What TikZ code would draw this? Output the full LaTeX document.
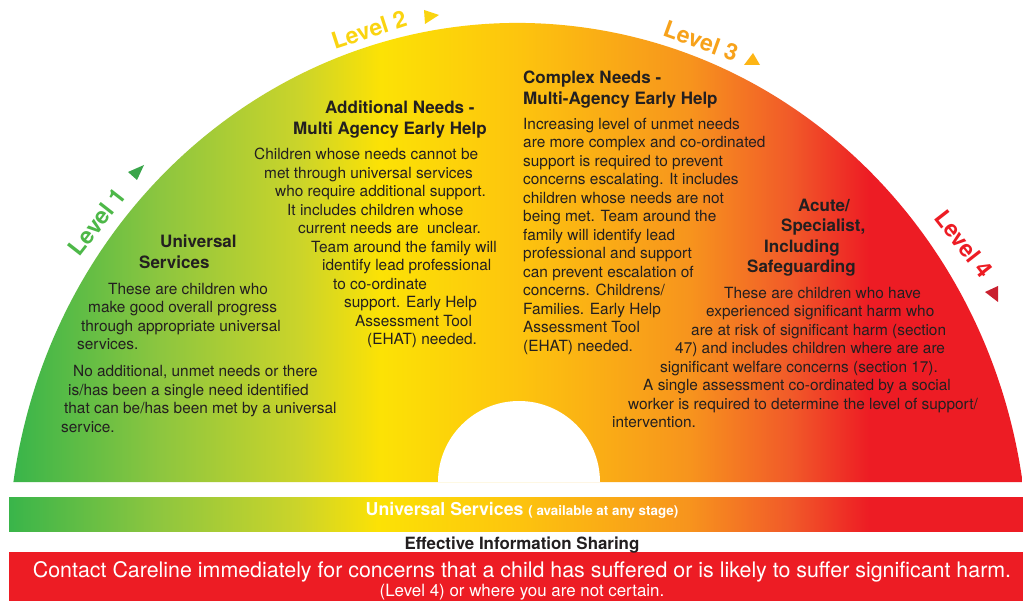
\documentclass[tikz,border=0pt]{standalone}
\usepackage{fontspec}
\setmainfont{TeX Gyre Heros}
\usetikzlibrary{scopes}

\definecolor{lvgreen}{RGB}{57,181,74}
\definecolor{lvlime}{RGB}{141,198,63}
\definecolor{lvyelgreen}{RGB}{203,212,42}
\definecolor{lvyellow}{RGB}{252,226,5}
\definecolor{lvgold}{RGB}{253,196,14}
\definecolor{lvorange}{RGB}{247,148,29}
\definecolor{lvredorange}{RGB}{241,90,41}
\definecolor{lvred}{RGB}{237,28,36}
\definecolor{txt}{RGB}{35,31,32}
\definecolor{oneText}{RGB}{77,184,72}
\definecolor{oneTri}{RGB}{58,165,74}
\definecolor{twoText}{RGB}{250,212,16}
\definecolor{threeText}{RGB}{247,162,27}
\definecolor{threeTri}{RGB}{253,181,21}
\definecolor{fourTri}{RGB}{201,32,47}

\pgfdeclarehorizontalshading{levels}{100bp}{color(0bp)=(lvgreen); color(25bp)=(lvgreen);
  color(32.3bp)=(lvlime); color(39.2bp)=(lvyelgreen); color(43.2bp)=(lvyellow);
  color(50.1bp)=(lvgold); color(58.5bp)=(lvorange); color(63.5bp)=(lvredorange);
  color(67.4bp)=(lvred); color(100bp)=(lvred)}

\begin{document}
\begin{tikzpicture}[x=1pt,y=-1pt,
    body/.style={align=left,inner sep=0pt,anchor=north west,text=txt,font=\fontsize{15.4}{18.5}\selectfont},
    head/.style={align=left,inner sep=0pt,anchor=north west,text=txt,font=\bfseries\fontsize{17}{20.3}\selectfont},
    lvl/.style={inner sep=0pt,font=\bfseries\fontsize{23}{23}\selectfont}]

    \useasboundingbox[fill=white] (0,0) rectangle (1023,601);

    % the half disc
    \shade[shading=levels] (13.4,482) arc[start angle=188.35,end angle=351.65,x radius=510,y radius=537] -- cycle;
    \fill[white] (438,482) arc[start angle=180,end angle=360,radius=81] -- cycle;

    % levels round the rim
    \node[lvl,text=oneText,rotate=52] (lvone) at (97,222) {Level 1};
    \node[lvl,text=twoText,rotate=18] (lvtwo) at (369,30) {Level 2};
    \node[lvl,text=threeText,rotate=-20] (lvthree) at (701,41) {Level 3};
    \node[lvl,text=lvred,rotate=-52] (lvfour) at (964,244) {Level 4};
    \fill[oneTri] (128,172) -- (144,165) -- (137,180) -- cycle;
    \fill[twoText] (424,10) -- (439,15) -- (425,24) -- cycle;
    \fill[threeTri] (753,53) -- (760,65) -- (744,65) -- cycle;
    \fill[fourTri] (998,286) -- (985,292) -- (998,302) -- cycle;

    % level 1
    \node[head] (univhead) at (139,235) {\hspace*{21pt}Universal\\Services};
    \node[body] (univtext) at (61,283) {\hspace*{47pt}These are children who\\
        \hspace*{27pt}make good overall progress\\
        \hspace*{20pt}through appropriate universal\\
        \hspace*{16pt}services.\\[8.5pt]
        \hspace*{12pt}No additional, unmet needs or there\\
        \hspace*{7pt}is/has been a single need identified\\
        \hspace*{3pt}that can be/has been met by a universal\\
        service.};

    % level 2
    \node[head] (addhead) at (293,101) {\hspace*{32pt}Additional Needs -\\Multi Agency Early Help};
    \node[body] (addtext) at (254,148) {Children whose needs cannot be\\
        \hspace*{10pt}met through universal services\\
        \hspace*{21pt}who require additional support.\\
        \hspace*{33pt}It includes children whose\\
        \hspace*{44pt}current needs are \ unclear.\\
        \hspace*{57pt}Team around the family will\\
        \hspace*{68pt}identify lead professional\\
        \hspace*{79pt}to co-ordinate\\
        \hspace*{90pt}support. Early Help\\
        \hspace*{101pt}Assessment Tool\\
        \hspace*{113pt}(EHAT) needed.};

    % level 3
    \node[head] (comphead) at (523,71) {Complex Needs -\\Multi-Agency Early Help};
    \node[body] (comptext) at (523,118) {Increasing level of unmet needs\\
        are more complex and co-ordinated\\
        support is required to prevent\\
        concerns escalating. It includes\\
        children whose needs are not\\
        being met. Team around the\\
        family will identify lead\\
        professional and support\\
        can prevent escalation of\\
        concerns. Childrens/\\
        Families. Early Help\\
        Assessment Tool\\
        (EHAT) needed.};

    % level 4
    \node[head] (acuthead) at (747,199) {\hspace*{51pt}Acute/\\
        \hspace*{34pt}Specialist,\\
        \hspace*{17pt}Including\\
        Safeguarding};
    \node[body] (acuttext) at (612,287) {\hspace*{112pt}These are children who have\\
        \hspace*{94pt}experienced significant harm who\\
        \hspace*{79pt}are at risk of significant harm (section\\
        \hspace*{63pt}47) and includes children where are are\\
        \hspace*{48pt}significant welfare concerns (section 17).\\
        \hspace*{31pt}A single assessment co-ordinated by a social\\
        \hspace*{16pt}worker is required to determine the level of support/\\
        intervention.};

    % bands underneath
    \shade[shading=levels] (9,497) rectangle (1023,531);
    \fill[lvred] (9,552) rectangle (1023,601);

    \node[anchor=base,text=white,font=\bfseries\fontsize{17.7}{19}\selectfont] (univband) at (522,515)
        {Universal Services {\fontsize{13.4}{15}\selectfont ( available at any stage)}};
    \node[anchor=base,text=txt,font=\bfseries\fontsize{16.9}{18}\selectfont] (sharing) at (522,549)
        {Effective Information Sharing};
    \node[anchor=base,text=white,font=\fontsize{21.4}{23}\selectfont] (careline) at (522,577)
        {Contact Careline immediately for concerns that a child has suffered or is likely to suffer significant harm.};
    \node[anchor=base,text=white,font=\fontsize{16.9}{18}\selectfont] (certain) at (522,596)
        {(Level 4) or where you are not certain.};

\end{tikzpicture}
\end{document}
